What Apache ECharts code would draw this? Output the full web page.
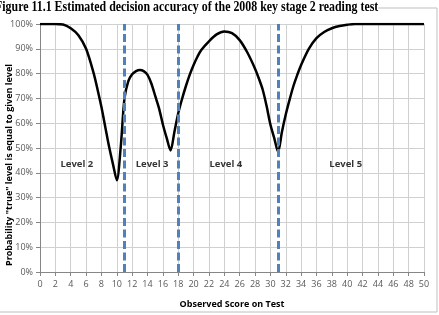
<!DOCTYPE html>
<html>
<head>
<meta charset="utf-8">
<script src="https://cdn.jsdelivr.net/npm/echarts@6/dist/echarts.min.js"></script>
<style>html,body{margin:0;padding:0;background:#fff;}#c{width:439px;height:315px;}</style>
</head>
<body>
<div id="c"></div>
<script>
const titleText = 'Figure 11.1 Estimated decision accuracy of the 2008 key stage 2 reading test';
const xAxisName = 'Observed Score on Test';
const yAxisName = 'Probability "true" level is equal to given level';
const scores = [0,1,2,3,4,5,6,7,7.5,8,8.5,9,9.5,10,10.5,11,11.5,12,12.5,13,13.5,14,14.5,15,15.5,16,16.5,17,17.5,18,18.5,19,19.5,20,20.5,21,22,23,24,25,26,27,28,28.5,29,29.5,30,30.5,31,31.5,32,32.5,33,33.5,34,35,36,37,38,39,40,41,42,43,44,45,46,47,48,49,50];
const accuracy = [100,100,100,99.8,98.3,95.5,90,80,73.5,66.5,58.5,50.5,43.5,37,50,70,77,79.7,81,81.5,81,79.5,76,71,66,59.5,54,49,56.5,64,69.8,75,79.6,83.5,86.8,89.5,93,95.8,97,96.3,93.5,88.5,82,78,73.5,67,59.5,54,48.5,56.5,63.5,69.5,75,79.5,83.5,90,94.3,96.8,98.3,99.2,99.7,100,100,100,100,100,100,100,100,100,100];
const cutScores = [11, 18, 31];
const levelNames = ['Level 2', 'Level 3', 'Level 4', 'Level 5'];
const levelX = [4.8, 14.6, 24.2, 39.8];
const levelY = [43.5, 43.5, 43.5, 43.5];

const chart = echarts.init(document.getElementById('c'), null, {renderer: 'canvas'});
const labelFont = '"Open Sans", "Liberation Sans", sans-serif';
chart.setOption({
  animation: false,
  backgroundColor: '#fff',
  grid: {left: 40, right: 15, top: 24, bottom: 43, containLabel: false},
  graphic: [
    {type: 'rect', shape: {x: -2, y: 8, width: 439, height: 304}, style: {fill: 'none', stroke: '#bfbfbf', lineWidth: 1}, z: 0},
    {type: 'text', x: -5, y: 0, scaleX: 0.85, style: {text: titleText, font: 'bold 14px "Liberation Serif", "Times New Roman", serif', fill: '#000', backgroundColor: '#fff'}, z: 10},
    {type: 'text', rotation: Math.PI / 2, x: 9, y: 165, style: {text: yAxisName, font: 'bold 9px ' + labelFont, fill: '#000', align: 'center', verticalAlign: 'middle'}, z: 10}
  ],
  xAxis: {
    type: 'value', min: 0, max: 50, interval: 2,
    name: xAxisName, nameLocation: 'middle', nameGap: 28,
    nameTextStyle: {fontFamily: labelFont, fontWeight: 'bold', fontSize: 9, color: '#000'},
    axisLine: {show: true, lineStyle: {color: '#868686'}},
    axisTick: {show: true, length: 4, lineStyle: {color: '#868686'}},
    axisLabel: {fontFamily: labelFont, fontSize: 9, color: '#595959', margin: 8},
    splitLine: {show: true, lineStyle: {color: '#d0d0d0'}}
  },
  yAxis: {
    type: 'value', min: 0, max: 100, interval: 10,
    axisLine: {show: true, lineStyle: {color: '#868686'}},
    axisTick: {show: true, length: 4, lineStyle: {color: '#868686'}},
    axisLabel: {fontFamily: labelFont, fontSize: 9, color: '#595959', margin: 7, formatter: '{value}%'},
    splitLine: {show: true, lineStyle: {color: '#d0d0d0'}}
  },
  series: [
    {
      type: 'line',
      data: scores.map((s, i) => [s, accuracy[i]]),
      smooth: 0.3,
      showSymbol: false,
      lineStyle: {color: '#000', width: 2.5},
      z: 3,
      markLine: {
        silent: true, symbol: ['none', 'none'],
        label: {show: false},
        lineStyle: {color: '#4f81bd', width: 3, type: [8, 3.5]},
        data: cutScores.map(v => ({xAxis: v}))
      }
    },
    {
      type: 'scatter',
      symbolSize: 0,
      data: levelX.map((x, i) => [x, levelY[i], levelNames[i]]),
      label: {show: true, position: 'inside', formatter: p => p.data[2], fontFamily: labelFont, fontWeight: 'bold', fontSize: 9.5, color: '#000'},
      z: 5
    }
  ]
});
</script>
</body>
</html>
